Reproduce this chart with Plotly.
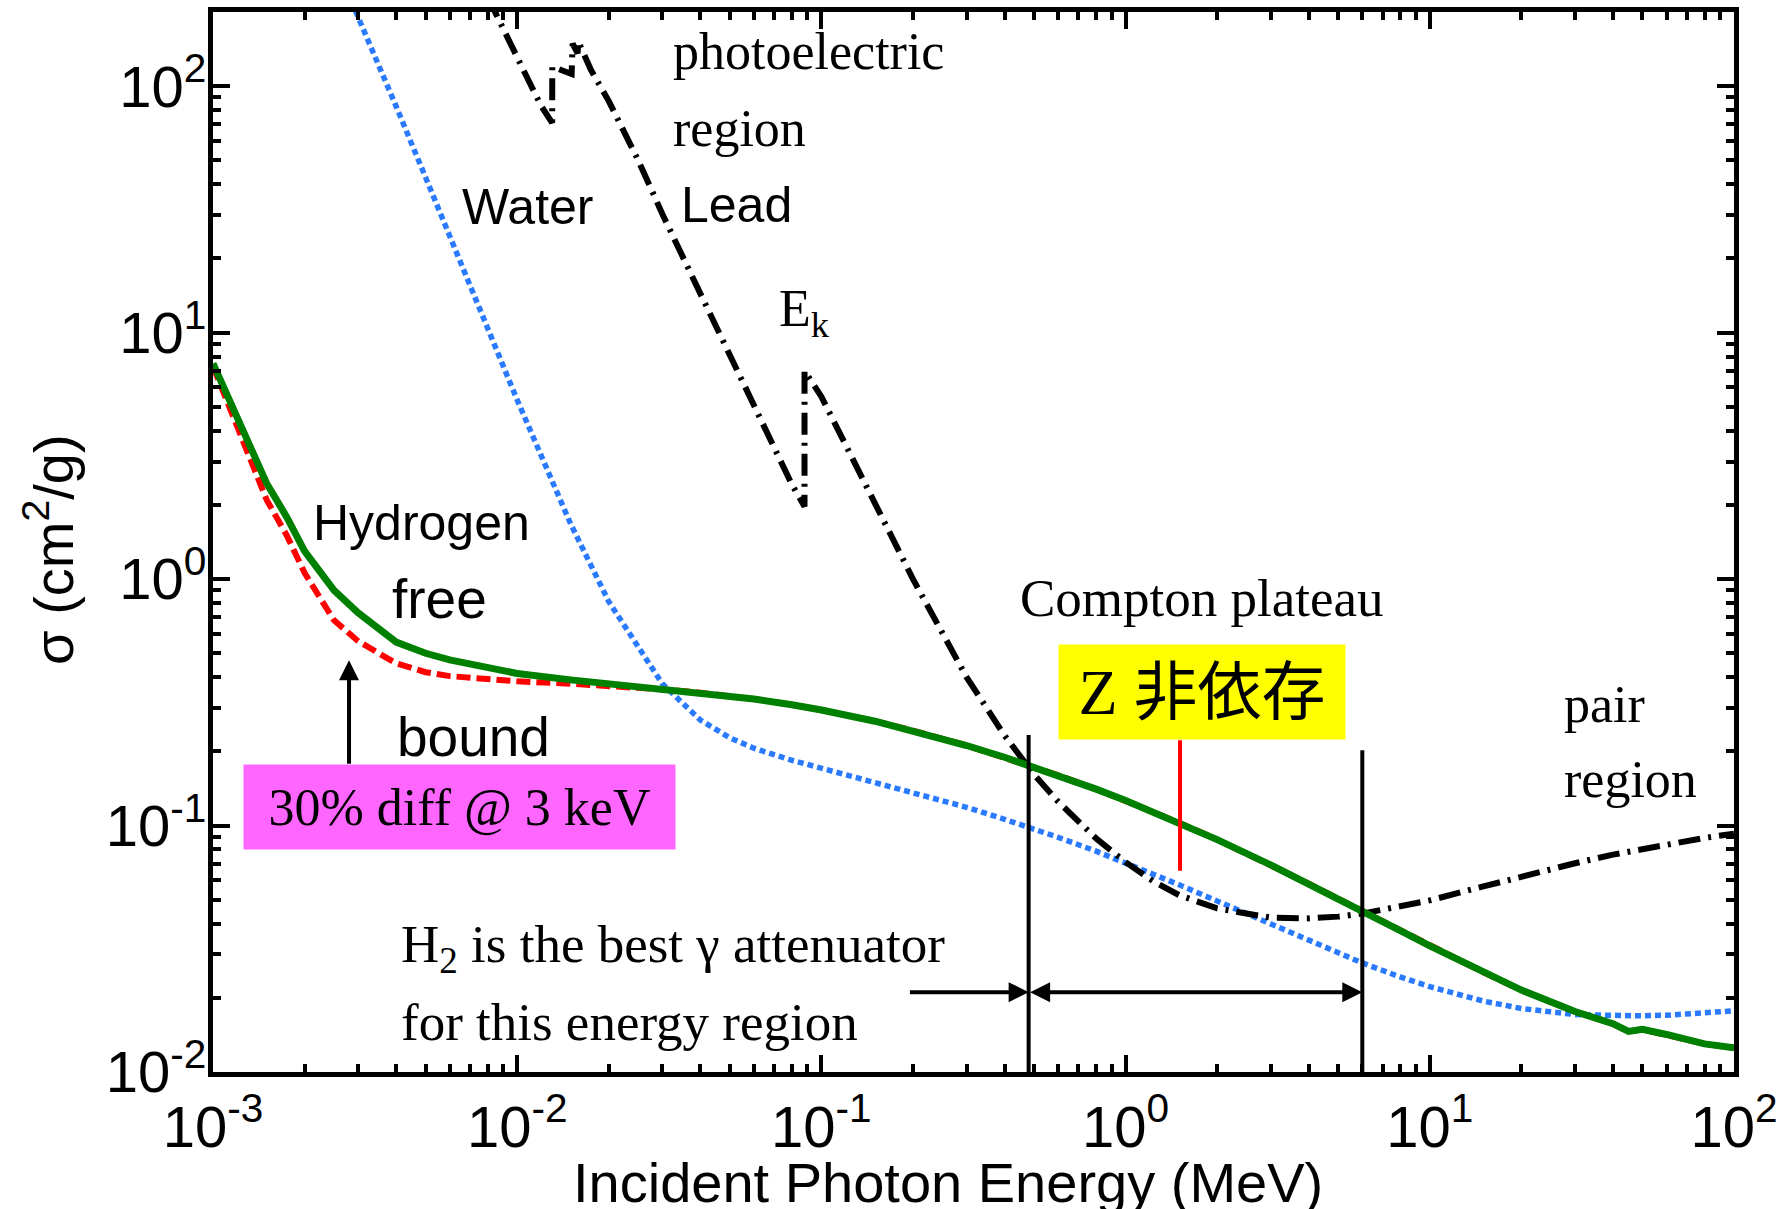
import math
import plotly.graph_objects as go

# ---------------- data ----------------
energy_h = [0.001, 0.00125, 0.0015, 0.00175, 0.002, 0.0025, 0.003, 0.004, 0.005, 0.006,
            0.008, 0.010, 0.015, 0.020, 0.030, 0.040, 0.050, 0.060, 0.080, 0.10,
            0.15, 0.20, 0.30, 0.40, 0.50, 0.60, 0.80, 1.0, 1.25, 1.5,
            2.0, 3.0, 4.0, 5.0, 6.0, 8.0, 10.0, 15.0, 20.0, 30.0,
            40.0, 45.0, 50.0, 60.0, 80.0, 100.0]
h_free = [7.5, 4.1, 2.45, 1.78, 1.30, 0.90, 0.73, 0.555, 0.50, 0.47,
          0.435, 0.414, 0.39, 0.375, 0.358, 0.3458, 0.3355, 0.326, 0.309, 0.2944,
          0.2651, 0.2429, 0.2112, 0.1893, 0.1729, 0.1599, 0.1405, 0.1263, 0.1129, 0.1027,
          0.0877, 0.0692, 0.0581, 0.0505, 0.0450, 0.0375, 0.0325, 0.0254, 0.0215, 0.0176,
          0.0157, 0.0146, 0.0149, 0.0142, 0.0130, 0.01254]
h_bound = [7.3, 3.75, 2.1, 1.5, 1.06, 0.68, 0.56, 0.455, 0.419, 0.404,
           0.391, 0.385, 0.376, 0.3695, 0.357, 0.3458, 0.3355, 0.326, 0.309, 0.2944,
           0.2651, 0.2429, 0.2112, 0.1893, 0.1729, 0.1599, 0.1405, 0.1263, 0.1129, 0.1027,
           0.0877, 0.0692, 0.0581, 0.0505, 0.0450, 0.0375, 0.0325, 0.0254, 0.0215, 0.0176,
           0.0157, 0.0146, 0.0149, 0.0142, 0.0130, 0.01254]

energy_water = [0.002, 0.003, 0.004, 0.005, 0.006, 0.008, 0.010, 0.015, 0.020, 0.030,
                0.040, 0.050, 0.060, 0.080, 0.10, 0.15, 0.20, 0.30, 0.40, 0.50,
                0.60, 0.80, 1.0, 1.25, 1.5, 2.0, 3.0, 4.0, 5.0, 6.0,
                8.0, 10.0, 15.0, 20.0, 30.0, 40.0, 50.0, 60.0, 80.0, 100.0]
water = [617.0, 192.9, 82.8, 42.6, 24.6, 10.4, 5.33, 1.67, 0.81, 0.376,
         0.268, 0.227, 0.206, 0.184, 0.171, 0.1505, 0.137, 0.1186, 0.106, 0.0969,
         0.0896, 0.0787, 0.0707, 0.0632, 0.0575, 0.0494, 0.0397, 0.0340, 0.0303, 0.0277,
         0.0243, 0.0222, 0.0194, 0.0181, 0.0171, 0.0169, 0.0169, 0.0170, 0.0173, 0.0177]

energy_lead = [0.008, 0.009, 0.010, 0.011, 0.012, 0.01303, 0.01304, 0.0151, 0.01521, 0.0158,
               0.01587, 0.0175, 0.020, 0.025, 0.030, 0.040, 0.050, 0.060, 0.080, 0.0880,
               0.08801, 0.10, 0.15, 0.20, 0.30, 0.40, 0.50, 0.60, 0.80, 1.0,
               1.25, 1.5, 2.0, 3.0, 4.0, 5.0, 6.0, 8.0, 10.0, 15.0,
               20.0, 30.0, 40.0, 50.0, 60.0, 80.0, 100.0]
lead = [230.0, 168.0, 131.0, 103.0, 83.0, 71.0, 120.0, 112.0, 149.0, 136.0,
        152.0, 116.0, 87.0, 50.0, 30.3, 14.4, 8.04, 5.02, 2.42, 1.97,
        7.0, 5.5, 2.01, 1.0, 0.40, 0.232, 0.161, 0.125, 0.0887, 0.0710,
        0.0588, 0.0522, 0.0461, 0.0423, 0.0420, 0.0427, 0.0439, 0.0468, 0.0497, 0.0566,
        0.0621, 0.0703, 0.0762, 0.0805, 0.0840, 0.0891, 0.0927]

# region markers (MeV) and their top values
compton_bounds = [0.48, 6.0]
compton_tops = [0.233, 0.202]
z_marker_energy = 1.51
z_marker_range = [0.0655, 0.222]
arrow_energy_3kev = 0.0028

x_tickvals = [1e-3, 1e-2, 1e-1, 1e0, 1e1, 1e2]
x_ticktext = ["10<sup>-3</sup>", "10<sup>-2</sup>", "10<sup>-1</sup>",
              "10<sup>0</sup>", "10<sup>1</sup>", "10<sup>2</sup>"]
y_tickvals = [1e-2, 1e-1, 1e0, 1e1, 1e2]
y_ticktext = ["10<sup>-2</sup>", "10<sup>-1</sup>", "10<sup>0</sup>",
              "10<sup>1</sup>", "10<sup>2</sup>"]

# ---------------- figure ----------------
L = math.log10
SANS = "Liberation Sans, Arial, sans-serif"
SERIF = "Liberation Serif, Times New Roman, serif"

fig = go.Figure()

fig.add_trace(go.Scatter(x=energy_water, y=water, mode="lines",
                         line=dict(color="#2a7aff", width=5.5, dash="6px,4px")))
fig.add_trace(go.Scatter(x=energy_lead, y=lead, mode="lines",
                         line=dict(color="black", width=6, dash="22px,8px,3px,8px")))
fig.add_trace(go.Scatter(x=energy_h, y=h_bound, mode="lines",
                         line=dict(color="#ff0000", width=6, dash="14px,6px")))
fig.add_trace(go.Scatter(x=energy_h, y=h_free, mode="lines",
                         line=dict(color="#008000", width=7)))

for xb, yt in zip(compton_bounds, compton_tops):
    fig.add_trace(go.Scatter(x=[xb, xb], y=[0.01, yt], mode="lines",
                             line=dict(color="black", width=4)))
fig.add_trace(go.Scatter(x=[z_marker_energy, z_marker_energy], y=z_marker_range, mode="lines",
                         line=dict(color="#ff0000", width=4)))

minor_vals = [m * 10 ** e for e in range(-3, 3) for m in range(2, 10)]

axis_common = dict(
    type="log", showline=True, linewidth=5, linecolor="black", mirror="allticks",
    ticks="inside", ticklen=17, tickwidth=4, tickcolor="black",
    showgrid=False, zeroline=False, automargin=False,
    tickfont=dict(family=SANS, size=58, color="black"),
    minor=dict(ticks="inside", ticklen=8, tickwidth=4, tickcolor="black",
               tickvals=minor_vals, showgrid=False),
)
fig.update_xaxes(**axis_common, range=[-3, 2], tickvals=x_tickvals, ticktext=x_ticktext,
                 ticklabelstandoff=0)
fig.update_yaxes(**axis_common, range=[-2, L(200)], tickvals=y_tickvals, ticktext=y_ticktext,
                 ticklabelstandoff=-10)

ann = []

def text(x, y, t, family=SANS, size=50, **kw):
    d = dict(x=x, y=y, xref="x", yref="y", text=t, showarrow=False,
             xanchor="left", yanchor="middle",
             font=dict(family=family, size=size, color="black"))
    d.update(kw)
    ann.append(d)

text(-1.494, 2.139, "photoelectric", SERIF, 52)
text(-1.494, 1.827, "region", SERIF, 52)
text(-1.468, 1.517, "Lead", SANS, 50)
text(-2.188, 1.509, "Water", SANS, 50)
text(-1.146, 1.081, "E<sub>k</sub>", SERIF, 52)
text(-2.678, 0.227, "Hydrogen", SANS, 50)
text(-2.417, -0.082, "free", SANS, 55)
text(-2.401, -0.641, "bound", SANS, 55)
text(-0.354, -0.077, "Compton plateau", SERIF, 53)
text(1.434, -0.509, "pair", SERIF, 52)
text(1.434, -0.814, "region", SERIF, 52)
text(-2.390, -1.497, "H<sub>2</sub> is the best γ attenuator", SERIF, 53)
text(-2.390, -1.796, "for this energy region", SERIF, 53)

# magenta box
ann.append(dict(x=-2.19, y=-0.925, xref="x", yref="y", text="30% diff @ 3 keV",
                showarrow=False, xanchor="center", yanchor="middle",
                bgcolor="#ff66ff", width=431, height=84, borderpad=0,
                font=dict(family=SERIF, size=52, color="black")))
# yellow box
ann.append(dict(x=0.251, y=-0.459, xref="x", yref="y",
                text="Z 非依存",
                showarrow=False, xanchor="center", yanchor="middle",
                bgcolor="#ffff00", width=286, height=94, borderpad=0,
                font=dict(family="Liberation Serif, Noto Sans CJK JP", size=64, color="black")))

# arrows
ann.append(dict(x=L(arrow_energy_3kev), y=-0.329, ax=L(arrow_energy_3kev), ay=-0.755,
                xref="x", yref="y", axref="x", ayref="y", text="", showarrow=True,
                arrowhead=2, arrowsize=1.0, arrowwidth=4, arrowcolor="black"))
ann.append(dict(x=L(compton_bounds[0]), y=-1.676, ax=-0.714, ay=-1.676,
                xref="x", yref="y", axref="x", ayref="y", text="", showarrow=True,
                arrowhead=2, arrowsize=1.0, arrowwidth=4, arrowcolor="black"))
ann.append(dict(x=L(compton_bounds[1]), y=-1.676, ax=L(compton_bounds[0]), ay=-1.676,
                xref="x", yref="y", axref="x", ayref="y", text="", showarrow=True,
                arrowhead=2, startarrowhead=2, arrowside="end+start",
                arrowsize=1.0, startarrowsize=1.0, arrowwidth=4, arrowcolor="black"))

# axis titles
ann.append(dict(x=0.4833, y=-0.104, xref="paper", yref="paper",
                text="Incident Photon Energy (MeV)", showarrow=False,
                xanchor="center", yanchor="middle",
                font=dict(family=SANS, size=56, color="black")))
ann.append(dict(x=-0.1075, y=0.493, xref="paper", yref="paper",
                text="σ (cm<sup>2</sup>/g)", showarrow=False, textangle=-90,
                xanchor="center", yanchor="middle",
                font=dict(family=SANS, size=56, color="black")))

fig.update_layout(
    width=1784, height=1209,
    margin=dict(l=213, r=50, t=12, b=137, autoexpand=False),
    paper_bgcolor="white", plot_bgcolor="white",
    showlegend=False,
    annotations=ann,
)

fig.write_html("out.html", config={"displayModeBar": False},
               post_script="document.body.style.margin='0';document.body.style.overflow='hidden';")
